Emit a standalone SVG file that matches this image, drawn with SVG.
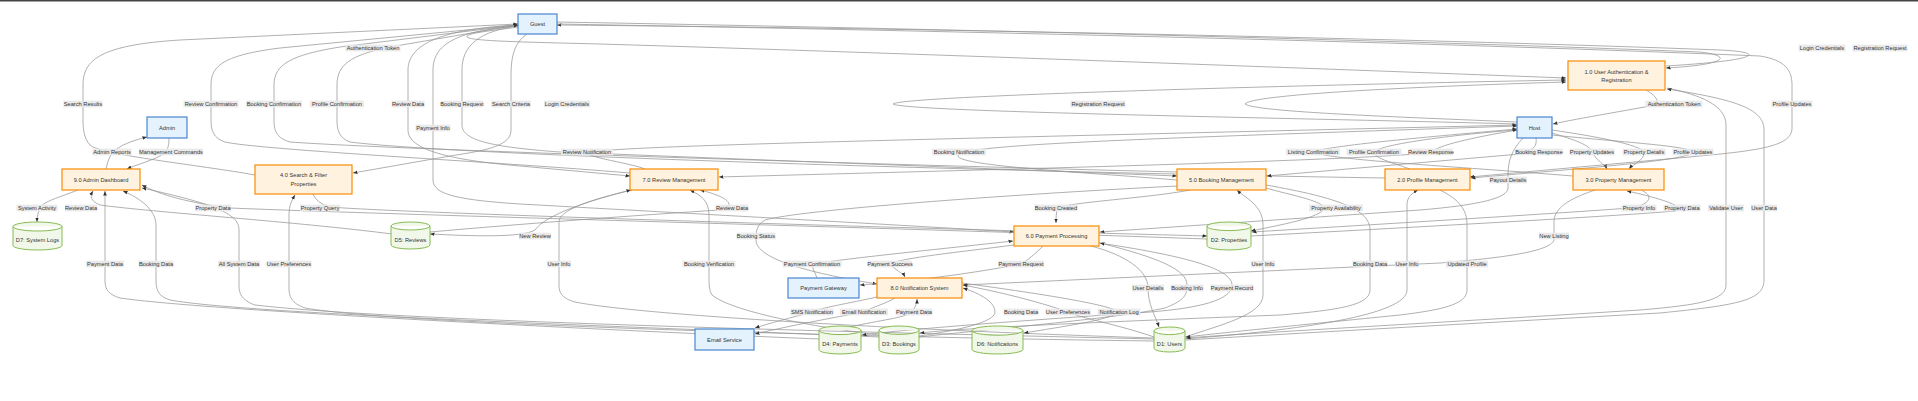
<svg xmlns="http://www.w3.org/2000/svg" width="1918" height="401" viewBox="0 0 1918 401">
<style>
.e{fill:none;stroke:#959595;stroke-width:0.75;marker-end:url(#arr)}
#edge-labels rect{fill:#e8e8e8;fill-opacity:0.92}
text{font-family:"Liberation Sans",Arial,sans-serif;font-size:5.7px;fill:#333;text-anchor:middle;dominant-baseline:central}
.proc rect{fill:#fff3e0;stroke:#fb8c00;stroke-width:1.2}
.ext rect{fill:#e3f2fd;stroke:#4a86cf;stroke-width:1.2}
.ds path{fill:#f1f8e9;stroke:#7cb342;stroke-width:0.9}
</style>
<defs>
<marker id="arr" viewBox="0 0 10 10" refX="10" refY="5" markerWidth="4.5" markerHeight="4.5" markerUnits="userSpaceOnUse" orient="auto"><path d="M0,1 L10,5 L0,9 z" fill="#333"/></marker>
</defs>
<rect x="0" y="0" width="1918" height="1.5" fill="#444"/>
<g id="edges">
<path class="e" d="M557 22 C 900 28 1400 40 1700 52 C 1735 56 1725 65 1666 68"/>
<path class="e" d="M518 27 C 490 31 466 33 467 37 C 470 41 520 42 600 44 C 900 53 1300 68 1566 78"/>
<path class="e" d="M1666 66 C 1765 60 1765 52 1720 50 C 1400 38 900 28 557 25"/>
<path class="e" d="M557 24 C 900 30 1400 41 1760 56 C 1785 60 1792 70 1792 85 L 1792 128 C 1792 145 1765 150 1700 156 L 1470 177"/>
<path class="e" d="M527 34 C 515 42 511 55 511 75 L 511 130 C 511 145 490 150 450 156 L 353 173"/>
<path class="e" d="M518 26 C 480 31 462 45 462 70 L 462 125 C 462 140 490 147 560 152 L 1177 176"/>
<path class="e" d="M518 25 C 440 29 408 45 408 70 L 408 130 C 408 150 450 160 520 166 L 630 176"/>
<path class="e" d="M518 26 C 455 31 433 45 433 70 L 433 180 C 433 195 460 200 520 204 C 700 214 900 225 1014 232"/>
<path class="e" d="M255 175 C 200 165 100 155 90 145 C 84 138 83 130 83 120 L 83 85 C 83 60 100 45 180 40 L 518 24"/>
<path class="e" d="M630 173 C 500 162 260 150 225 142 C 213 138 211 130 211 120 L 211 85 C 211 65 225 55 280 48 L 518 25"/>
<path class="e" d="M1177 172 C 900 165 400 150 290 142 C 276 138 274 130 274 120 L 274 85 C 274 65 290 55 340 47 L 518 25"/>
<path class="e" d="M1385 178 C 1000 172 450 155 350 142 C 339 138 337 130 337 120 L 337 85 C 337 65 350 55 390 47 L 518 25"/>
<path class="e" d="M1517 122 C 1400 117 1255 112 1245 104 C 1250 95 1400 87 1566 82"/>
<path class="e" d="M1517 124 C 1300 118 905 112 893 104 C 900 96 1300 85 1566 80"/>
<path class="e" d="M1646 90 C 1655 95 1660 101 1655 105 C 1630 110 1580 118 1553 124"/>
<path class="e" d="M1536 138 C 1537 145 1535 150 1520 154 L 1267 176"/>
<path class="e" d="M1177 180 C 1080 172 960 166 958 156 C 960 145 1100 140 1517 126"/>
<path class="e" d="M645 169 C 630 163 590 158 588 153 C 600 146 900 140 1517 125"/>
<path class="e" d="M1517 130 C 1470 138 1440 145 1431 152 C 1400 160 900 172 719 177"/>
<path class="e" d="M1573 176 C 1450 166 1330 160 1313 152 C 1330 145 1450 135 1517 129"/>
<path class="e" d="M1410 169 C 1390 162 1374 158 1374 152 C 1380 144 1460 134 1517 130"/>
<path class="e" d="M1552 133 C 1575 140 1590 145 1592 152 C 1596 160 1605 165 1607 169"/>
<path class="e" d="M1552 130 C 1600 137 1640 145 1644 152 C 1645 160 1633 164 1629 169"/>
<path class="e" d="M1552 135 C 1620 142 1690 146 1693 152 C 1690 160 1600 167 1471 178"/>
<path class="e" d="M1523 138 C 1512 150 1508 160 1508 175 L 1508 188 C 1508 198 1480 205 1420 210 L 1100 232"/>
<path class="e" d="M169 138 C 169 145 168 149 165 153 C 155 160 135 165 127 169"/>
<path class="e" d="M106 169 C 108 160 110 155 115 150 C 125 143 135 140 147 137"/>
<path class="e" d="M78 190 C 60 197 42 202 40 208 C 38 213 37 217 37 222"/>
<path class="e" d="M392 234 C 300 222 150 212 100 205 C 90 201 90 196 93 191"/>
<path class="e" d="M819 339 C 600 330 200 310 120 298 C 107 294 105 288 105 280 L 105 191"/>
<path class="e" d="M879 337 C 700 329 250 315 170 300 C 158 296 156 290 156 280 L 156 225 C 156 210 140 198 123 191"/>
<path class="e" d="M1154 339 C 900 333 400 322 255 305 C 241 300 239 293 239 285 L 239 230 C 239 215 220 205 142 188"/>
<path class="e" d="M1207 239 C 900 228 400 215 230 208 C 190 203 160 195 142 185"/>
<path class="e" d="M313 194 C 316 200 320 204 330 207 C 400 213 900 228 1207 236"/>
<path class="e" d="M1154 341 C 900 338 400 325 305 308 C 291 303 289 296 289 288 L 289 215 C 289 205 292 200 295 195"/>
<path class="e" d="M632 190 C 590 200 545 215 535 230 C 522 238 470 236 430 234"/>
<path class="e" d="M430 232 C 520 224 640 215 720 210 C 735 207 733 198 700 190"/>
<path class="e" d="M879 335 C 800 325 730 310 712 295 C 709 290 709 285 709 275 L 709 215 C 709 200 700 195 690 190"/>
<path class="e" d="M1154 338 C 900 330 640 315 575 302 C 561 298 559 292 559 285 L 559 222 C 559 210 590 200 631 190"/>
<path class="e" d="M1190 190 C 1150 198 1070 202 1058 208 C 1056 212 1056 218 1056 223"/>
<path class="e" d="M1266 188 C 1290 195 1320 200 1325 208 C 1320 218 1280 225 1251 231"/>
<path class="e" d="M1177 186 C 1000 195 800 210 765 220 C 757 225 756 230 756 240 C 756 255 790 270 877 284"/>
<path class="e" d="M1185 337 C 1220 325 1263 315 1263 295 L 1263 225 C 1263 205 1245 198 1237 190"/>
<path class="e" d="M1266 185 C 1340 198 1370 210 1370 230 L 1370 290 C 1370 305 1340 310 1280 315 C 1100 322 960 328 920 333"/>
<path class="e" d="M1185 339 C 1300 330 1407 315 1407 290 L 1407 205 C 1407 197 1412 193 1418 190"/>
<path class="e" d="M1440 190 C 1460 200 1467 210 1467 225 L 1467 290 C 1467 305 1440 310 1400 315 C 1300 325 1220 333 1186 337"/>
<path class="e" d="M1641 190 C 1655 196 1650 205 1630 208 C 1550 214 1350 226 1252 232"/>
<path class="e" d="M1251 236 C 1400 228 1620 216 1675 211 C 1690 208 1660 198 1627 191"/>
<path class="e" d="M1595 190 C 1575 197 1556 205 1554 220 L 1554 240 C 1550 252 1500 258 1440 263 L 963 285"/>
<path class="e" d="M1667 88 C 1700 95 1726 105 1726 125 L 1726 285 C 1726 300 1700 305 1640 310 C 1450 322 1250 333 1186 338"/>
<path class="e" d="M1186 340 C 1300 333 1500 322 1660 313 C 1740 305 1764 300 1764 280 L 1764 130 C 1764 110 1740 100 1667 89"/>
<path class="e" d="M1043 246 C 1035 254 1028 260 1021 264 C 990 270 930 280 860 285"/>
<path class="e" d="M817 278 C 815 272 812 268 812 264 C 850 258 950 248 1013 241"/>
<path class="e" d="M1014 245 C 960 252 900 258 890 264 C 895 270 903 273 905 277"/>
<path class="e" d="M1099 243 C 1180 255 1232 268 1232 285 C 1232 300 1200 308 1150 312 C 1000 322 900 330 862 335"/>
<path class="e" d="M1091 246 C 1125 255 1148 270 1148 288 C 1148 305 1155 315 1159 327"/>
<path class="e" d="M919 337 C 1000 328 1120 318 1165 308 C 1185 300 1187 295 1187 285 C 1187 270 1160 258 1100 243"/>
<path class="e" d="M877 297 C 850 303 820 308 812 312 C 790 318 770 323 755 328"/>
<path class="e" d="M895 298 C 885 304 870 308 864 312 C 820 320 780 328 755 334"/>
<path class="e" d="M850 327 C 880 320 905 318 912 312 C 916 306 917 302 917 299"/>
<path class="e" d="M919 336 C 960 330 995 322 995 312 C 995 300 975 292 963 288"/>
<path class="e" d="M1154 337 C 1120 325 1080 318 1068 312 C 1040 302 1000 292 963 285"/>
<path class="e" d="M962 283 C 1050 295 1110 305 1119 312 C 1110 320 1060 327 1024 333"/>
</g>
<g id="edge-labels">
<rect x="345.5" y="44.6" width="55" height="6.8"/><text x="373" y="48">Authentication Token</text>
<rect x="1798.5" y="44.6" width="47" height="6.8"/><text x="1822" y="48">Login Credentials</text>
<rect x="1852.5" y="44.6" width="55" height="6.8"/><text x="1880" y="48">Registration Request</text>
<rect x="63.5" y="100.6" width="39" height="6.8"/><text x="83" y="104">Search Results</text>
<rect x="183.5" y="100.6" width="55" height="6.8"/><text x="211" y="104">Review Confirmation</text>
<rect x="246" y="100.6" width="56" height="6.8"/><text x="274" y="104">Booking Confirmation</text>
<rect x="310" y="100.6" width="54" height="6.8"/><text x="337" y="104">Profile Confirmation</text>
<rect x="391.5" y="100.6" width="33" height="6.8"/><text x="408" y="104">Review Data</text>
<rect x="441" y="100.6" width="42" height="6.8"/><text x="462" y="104">Booking Request</text>
<rect x="491" y="100.6" width="40" height="6.8"/><text x="511" y="104">Search Criteria</text>
<rect x="544" y="100.6" width="46" height="6.8"/><text x="567" y="104">Login Credentials</text>
<rect x="1070.5" y="100.6" width="55" height="6.8"/><text x="1098" y="104">Registration Request</text>
<rect x="1645.5" y="100.6" width="57" height="6.8"/><text x="1674" y="104">Authentication Token</text>
<rect x="1771.5" y="100.6" width="41" height="6.8"/><text x="1792" y="104">Profile Updates</text>
<rect x="415.5" y="124.6" width="35" height="6.8"/><text x="433" y="128">Payment Info</text>
<rect x="92.5" y="148.6" width="39" height="6.8"/><text x="112" y="152">Admin Reports</text>
<rect x="139" y="148.6" width="64" height="6.8"/><text x="171" y="152">Management Commands</text>
<rect x="561" y="148.6" width="52" height="6.8"/><text x="587" y="152">Review Notification</text>
<rect x="932" y="148.6" width="54" height="6.8"/><text x="959" y="152">Booking Notification</text>
<rect x="1286" y="148.6" width="54" height="6.8"/><text x="1313" y="152">Listing Confirmation</text>
<rect x="1346.5" y="148.6" width="55" height="6.8"/><text x="1374" y="152">Profile Confirmation</text>
<rect x="1409" y="148.6" width="44" height="6.8"/><text x="1431" y="152">Review Response</text>
<rect x="1515.5" y="148.6" width="47" height="6.8"/><text x="1539" y="152">Booking Response</text>
<rect x="1569.5" y="148.6" width="45" height="6.8"/><text x="1592" y="152">Property Updates</text>
<rect x="1622.5" y="148.6" width="43" height="6.8"/><text x="1644" y="152">Property Details</text>
<rect x="1672.5" y="148.6" width="41" height="6.8"/><text x="1693" y="152">Profile Updates</text>
<rect x="1489" y="176.6" width="38" height="6.8"/><text x="1508" y="180">Payout Details</text>
<rect x="16.5" y="204.6" width="41" height="6.8"/><text x="37" y="208">System Activity</text>
<rect x="65" y="204.6" width="32" height="6.8"/><text x="81" y="208">Review Data</text>
<rect x="195" y="204.6" width="36" height="6.8"/><text x="213" y="208">Property Data</text>
<rect x="300" y="204.6" width="40" height="6.8"/><text x="320" y="208">Property Query</text>
<rect x="715.5" y="204.6" width="33" height="6.8"/><text x="732" y="208">Review Data</text>
<rect x="1034.5" y="204.6" width="43" height="6.8"/><text x="1056" y="208">Booking Created</text>
<rect x="1309" y="204.6" width="54" height="6.8"/><text x="1336" y="208">Property Availability</text>
<rect x="1621.5" y="204.6" width="35" height="6.8"/><text x="1639" y="208">Property Info</text>
<rect x="1663.5" y="204.6" width="37" height="6.8"/><text x="1682" y="208">Property Data</text>
<rect x="1708" y="204.6" width="36" height="6.8"/><text x="1726" y="208">Validate User</text>
<rect x="1751" y="204.6" width="26" height="6.8"/><text x="1764" y="208">User Data</text>
<rect x="519" y="232.6" width="32" height="6.8"/><text x="535" y="236">New Review</text>
<rect x="736.5" y="232.6" width="39" height="6.8"/><text x="756" y="236">Booking Status</text>
<rect x="1539" y="232.6" width="30" height="6.8"/><text x="1554" y="236">New Listing</text>
<rect x="86" y="260.6" width="38" height="6.8"/><text x="105" y="264">Payment Data</text>
<rect x="138.5" y="260.6" width="35" height="6.8"/><text x="156" y="264">Booking Data</text>
<rect x="218" y="260.6" width="42" height="6.8"/><text x="239" y="264">All System Data</text>
<rect x="266.5" y="260.6" width="45" height="6.8"/><text x="289" y="264">User Preferences</text>
<rect x="547" y="260.6" width="24" height="6.8"/><text x="559" y="264">User Info</text>
<rect x="682.5" y="260.6" width="53" height="6.8"/><text x="709" y="264">Booking Verification</text>
<rect x="782.5" y="260.6" width="59" height="6.8"/><text x="812" y="264">Payment Confirmation</text>
<rect x="868" y="260.6" width="44" height="6.8"/><text x="890" y="264">Payment Success</text>
<rect x="998" y="260.6" width="46" height="6.8"/><text x="1021" y="264">Payment Request</text>
<rect x="1251" y="260.6" width="24" height="6.8"/><text x="1263" y="264">User Info</text>
<rect x="1352.5" y="260.6" width="35" height="6.8"/><text x="1370" y="264">Booking Data</text>
<rect x="1395" y="260.6" width="24" height="6.8"/><text x="1407" y="264">User Info</text>
<rect x="1446" y="260.6" width="42" height="6.8"/><text x="1467" y="264">Updated Profile</text>
<rect x="1132" y="284.6" width="32" height="6.8"/><text x="1148" y="288">User Details</text>
<rect x="1170.5" y="284.6" width="33" height="6.8"/><text x="1187" y="288">Booking Info</text>
<rect x="1210.5" y="284.6" width="43" height="6.8"/><text x="1232" y="288">Payment Record</text>
<rect x="790.5" y="308.6" width="43" height="6.8"/><text x="812" y="312">SMS Notification</text>
<rect x="840" y="308.6" width="48" height="6.8"/><text x="864" y="312">Email Notification</text>
<rect x="895.5" y="308.6" width="37" height="6.8"/><text x="914" y="312">Payment Data</text>
<rect x="1003.5" y="308.6" width="35" height="6.8"/><text x="1021" y="312">Booking Data</text>
<rect x="1045.5" y="308.6" width="45" height="6.8"/><text x="1068" y="312">User Preferences</text>
<rect x="1097.5" y="308.6" width="43" height="6.8"/><text x="1119" y="312">Notification Log</text>
</g>
<g id="guest" class="ext"><rect x="518" y="14" width="39" height="20"/><text x="537.5" y="24">Guest</text></g>
<g id="admin" class="ext"><rect x="147" y="117" width="40" height="21"/><text x="167" y="127.5">Admin</text></g>
<g id="host" class="ext"><rect x="1517" y="117" width="35" height="21"/><text x="1534.5" y="127.5">Host</text></g>
<g id="payment-gateway" class="ext"><rect x="788" y="278" width="71" height="20"/><text x="823.5" y="288">Payment Gateway</text></g>
<g id="email-service" class="ext"><rect x="695" y="329" width="59" height="21"/><text x="724.5" y="339.5">Email Service</text></g>
<g id="p1" class="proc"><rect x="1568" y="61" width="97" height="29"/><text x="1616.5" y="72">1.0 User Authentication &amp;</text><text x="1616.5" y="80">Registration</text></g>
<g id="p9" class="proc"><rect x="62" y="169" width="78" height="21"/><text x="101" y="179.5">9.0 Admin Dashboard</text></g>
<g id="p4" class="proc"><rect x="255" y="165" width="97" height="29"/><text x="303.5" y="175">4.0 Search &amp; Filter</text><text x="303.5" y="184">Properties</text></g>
<g id="p7" class="proc"><rect x="630" y="169" width="88" height="21"/><text x="674" y="179.5">7.0 Review Management</text></g>
<g id="p5" class="proc"><rect x="1177" y="169" width="89" height="21"/><text x="1221.5" y="179.5">5.0 Booking Management</text></g>
<g id="p2" class="proc"><rect x="1385" y="169" width="85" height="21"/><text x="1427.5" y="179.5">2.0 Profile Management</text></g>
<g id="p3" class="proc"><rect x="1573" y="169" width="91" height="21"/><text x="1618.5" y="179.5">3.0 Property Management</text></g>
<g id="p6" class="proc"><rect x="1014" y="226" width="85" height="20"/><text x="1056.5" y="236">6.0 Payment Processing</text></g>
<g id="p8" class="proc"><rect x="877" y="278" width="85" height="20"/><text x="919.5" y="288">8.0 Notification System</text></g>
<g id="d7" class="ds"><path d="M13,226.5 A24.5,4.5 0 0 1 62,226.5 A24.5,4.5 0 0 1 13,226.5 L13,245.5 A24.5,4.5 0 0 0 62,245.5 L62,226.5"/><text x="37.5" y="240">D7: System Logs</text></g>
<g id="d5" class="ds"><path d="M391,226 A19.5,4 0 0 1 430,226 A19.5,4 0 0 1 391,226 L391,245 A19.5,4 0 0 0 430,245 L430,226"/><text x="410.5" y="240">D5: Reviews</text></g>
<g id="d2" class="ds"><path d="M1207,226.3 A22,4.3 0 0 1 1251,226.3 A22,4.3 0 0 1 1207,226.3 L1207,245.7 A22,4.3 0 0 0 1251,245.7 L1251,226.3"/><text x="1229" y="240">D2: Properties</text></g>
<g id="d4" class="ds"><path d="M819,330.3 A21,4.3 0 0 1 861,330.3 A21,4.3 0 0 1 819,330.3 L819,349.7 A21,4.3 0 0 0 861,349.7 L861,330.3"/><text x="840" y="344">D4: Payments</text></g>
<g id="d3" class="ds"><path d="M879,330.2 A20,4.2 0 0 1 919,330.2 A20,4.2 0 0 1 879,330.2 L879,349.8 A20,4.2 0 0 0 919,349.8 L919,330.2"/><text x="899" y="344">D3: Bookings</text></g>
<g id="d6" class="ds"><path d="M972,330.6 A25.5,4.6 0 0 1 1023,330.6 A25.5,4.6 0 0 1 972,330.6 L972,349.4 A25.5,4.6 0 0 0 1023,349.4 L1023,330.6"/><text x="997.5" y="344">D6: Notifications</text></g>
<g id="d1" class="ds"><path d="M1154,330.8 A15.5,3.8 0 0 1 1185,330.8 A15.5,3.8 0 0 1 1154,330.8 L1154,348.2 A15.5,3.8 0 0 0 1185,348.2 L1185,330.8"/><text x="1169.5" y="344">D1: Users</text></g>
</svg>
